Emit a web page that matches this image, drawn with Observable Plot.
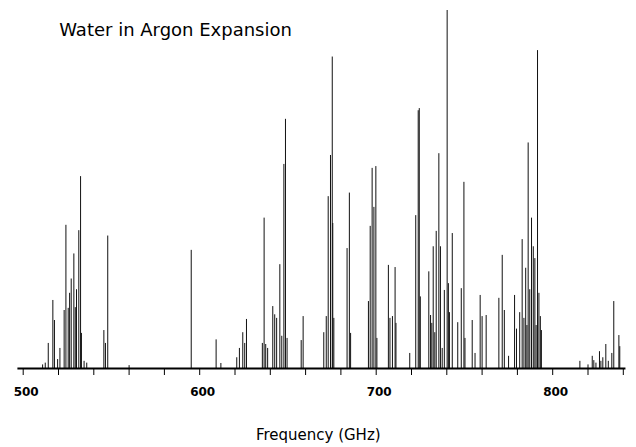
<!DOCTYPE html>
<html><head><meta charset="utf-8">
<script src="https://cdn.jsdelivr.net/npm/d3@7"></script>
<script src="https://cdn.jsdelivr.net/npm/@observablehq/plot@0.6"></script>
<style>body{margin:0;background:#fff}</style>
</head><body><div id="chart"></div>
<script>
const title = "Water in Argon Expansion";
const xLabel = "Frequency (GHz)";
// line positions (GHz) and relative intensities (tallest = 100)
const frequency = [
  511.0, 512.5, 514.2, 516.8, 517.7, 519.5, 520.8, 523.2, 524.2, 525.5, 526.3, 527.2, 528.7, 529.5, 530.2, 531.5, 532.5, 533.0, 534.5, 536.0,
  545.7, 546.6, 547.9, 560.0, 595.2, 609.3, 612.0,
  621.0, 622.5, 624.4, 625.5, 626.5, 635.5, 636.5, 637.4, 638.5, 641.4, 642.5, 643.6, 645.4, 646.5, 647.7, 648.6, 649.5,
  657.5, 658.6, 670.3, 671.7, 672.8, 674.1, 675.1, 675.4, 676.0,
  683.5, 684.8, 685.5, 695.6, 696.6, 697.7, 698.7, 699.8, 700.4, 706.9, 707.8, 709.2, 710.7, 711.2, 719.0,
  722.4, 723.8, 724.4, 725.0, 729.8, 730.8, 731.5, 732.3, 733.2, 734.0, 735.5, 736.4, 737.4, 738.6, 740.2, 740.9, 741.5, 743.1,
  746.2, 748.2, 749.7, 750.3, 754.4, 756.0, 758.9, 760.0, 762.3, 769.5, 771.4, 772.6, 775.0,
  778.4, 779.5, 781.3, 782.7, 783.7, 784.7, 785.4, 786.1, 787.0, 788.0, 789.0, 789.9, 790.6, 791.4, 792.2, 793.0, 793.6,
  815.4, 820.0, 822.4, 823.3, 824.5, 826.5, 827.3, 828.4, 830.1, 831.5, 833.5, 834.6, 837.5, 838.0
];
const intensity = [
  1.0, 1.5, 7.0, 19.0, 13.4, 2.5, 5.6, 16.2, 40.0, 16.8, 21.0, 25.0, 32.0, 17.0, 22.0, 38.5, 53.6, 9.8, 2.0, 1.5,
  10.6, 7.0, 37.0, 0.8, 33.0, 8.0, 1.4,
  3.0, 5.6, 10.0, 7.0, 13.7, 7.0, 42.0, 6.7, 5.6, 17.3, 15.0, 14.0, 29.0, 9.0, 57.0, 69.6, 8.4,
  7.8, 14.5, 10.0, 14.5, 48.0, 59.5, 87.0, 40.5, 14.0,
  33.5, 49.0, 9.8, 18.7, 39.7, 55.9, 45.0, 56.4, 8.4, 28.8, 14.0, 14.5, 28.2, 12.6, 4.2,
  42.7, 72.0, 72.6, 20.0, 27.0, 14.8, 12.6, 34.0, 10.0, 38.3, 60.0, 34.0, 5.6, 21.8, 100.0, 23.7, 15.6, 37.7,
  12.8, 22.3, 52.0, 8.4, 13.4, 4.2, 20.4, 14.5, 14.8, 19.6, 31.6, 16.2, 3.4,
  20.4, 11.0, 15.6, 36.0, 14.0, 28.0, 12.0, 63.0, 22.0, 42.0, 34.0, 30.7, 12.0, 88.8, 21.0, 14.5, 10.6,
  2.0, 1.0, 3.4, 2.2, 1.5, 4.7, 2.0, 3.0, 6.7, 2.0, 4.2, 18.7, 9.2, 6.1
];
const xTicks = [500, 520, 540, 560, 580, 600, 620, 640, 660, 680, 700, 720, 740, 760, 780, 800, 820, 840];
const xTickLabels = [500, 600, 700, 800];

const lines = frequency.map((f, i) => ({f, v: intensity[i]}));

const chart = Plot.plot({
  width: 636,
  height: 447,
  marginLeft: 22.7,
  marginRight: 13.2,
  marginTop: 10,
  marginBottom: 79,
  x: {domain: [500, 840]},
  y: {domain: [0, 100], axis: null},
  style: {fontFamily: "DejaVu Sans", background: "white", color: "#000"},
  marks: [
    Plot.ruleX(lines, {x: "f", y1: 0, y2: "v", stroke: "#111", strokeWidth: 1}),
    Plot.ruleY([0], {x1: 497, x2: 841.5, stroke: "#000", strokeWidth: 1.8}),
    Plot.axisX({ticks: xTicks, tickSize: 7, tickFormat: () => "", label: null, stroke: "#000"}),
    Plot.axisX({
      ticks: xTickLabels, tickSize: 0, tickPadding: 19, label: null,
      tickFormat: d => String(d), fontSize: 12, fontWeight: "bold", dx: 3
    }),
    Plot.text([title], {text: d => d, frameAnchor: "top-left", textAnchor: "start", dx: 36, dy: 13, fontSize: 18, fill: "#000"}),
    Plot.text([xLabel], {text: d => d, frameAnchor: "bottom", dx: -5, dy: 71, fontSize: 15, fill: "#000"})
  ]
});
document.getElementById("chart").appendChild(chart);
</script>
</body></html>
